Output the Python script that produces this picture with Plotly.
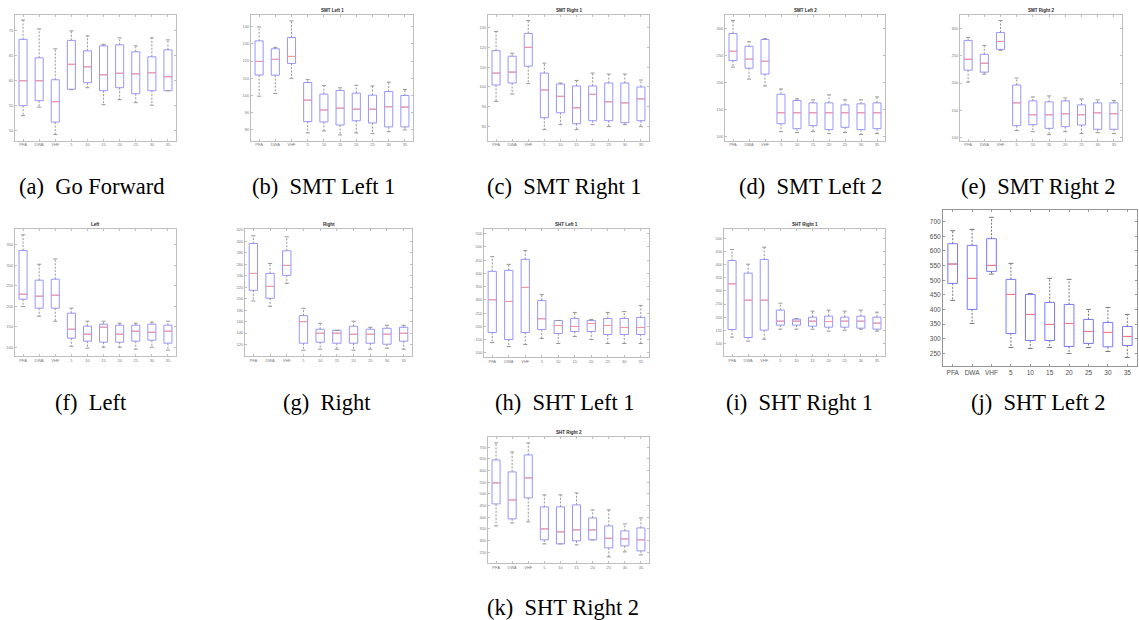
import plotly.graph_objects as go

W, H = 1139, 620

categories = ["PFA", "DWA", "VHF", "5", "10", "15", "20", "25", "30", "35"]

# (a) Go Forward
gf_upper = [72.2, 70.4, 66.4, 70.0, 69.0, 67.3, 68.6, 67.0, 68.6, 68.2]
gf_q3 = [68.3, 64.6, 60.2, 68.1, 66.0, 67.0, 67.2, 65.8, 64.8, 66.2]
gf_med = [60.0, 60.0, 55.8, 63.3, 62.8, 61.2, 61.5, 61.4, 61.6, 60.8]
gf_q1 = [55.0, 56.0, 51.7, 58.3, 59.6, 58.0, 58.6, 57.4, 58.0, 58.0]
gf_lower = [53.0, 54.7, 49.2, 58.2, 58.6, 55.2, 56.2, 55.6, 55.1, 58.0]

# (b) SMT Left 1
sl1_upper = [140.0, 128.0, 143.5, 109.1, 105.6, 104.3, 105.8, 105.4, 107.6, 103.3]
sl1_q3 = [131.8, 127.2, 133.8, 107.4, 100.6, 102.7, 101.2, 100.0, 102.1, 99.8]
sl1_med = [119.8, 121.0, 122.7, 97.1, 91.3, 92.4, 91.8, 91.8, 93.2, 93.0]
sl1_q1 = [111.8, 111.7, 118.6, 84.5, 84.3, 82.5, 85.0, 83.7, 81.4, 81.4]
sl1_lower = [99.4, 101.0, 109.9, 77.9, 79.0, 76.7, 77.9, 77.5, 78.6, 79.6]

# (c) SMT Right 1
sr1_upper = [128.0, 117.0, 133.5, 112.0, 102.0, 103.3, 107.0, 106.5, 106.5, 103.5]
sr1_q3 = [118.3, 115.5, 127.0, 107.0, 101.5, 100.5, 100.5, 102.0, 102.0, 100.0]
sr1_med = [107.0, 107.5, 120.0, 98.5, 95.3, 89.5, 96.3, 92.5, 92.0, 94.0]
sr1_q1 = [101.0, 102.0, 110.5, 84.5, 87.0, 81.5, 83.0, 83.0, 82.0, 83.0]
sr1_lower = [92.7, 96.5, 101.7, 78.5, 81.0, 78.5, 81.0, 80.0, 81.0, 80.0]

# (d) SMT Left 2
sl2_upper = [314.0, 275.0, 280.6, 188.2, 170.0, 168.2, 177.3, 168.2, 168.2, 173.6]
sl2_q3 = [290.3, 266.6, 279.3, 178.5, 167.0, 162.7, 162.7, 159.0, 160.9, 162.7]
sl2_med = [257.5, 243.0, 239.2, 144.5, 144.5, 144.5, 144.5, 144.5, 144.5, 144.5]
sl2_q1 = [240.5, 226.5, 215.6, 124.4, 115.3, 120.8, 113.5, 117.7, 113.5, 115.3]
sl2_lower = [228.3, 206.4, 193.7, 109.8, 108.0, 109.8, 106.2, 108.0, 104.4, 106.2]

# (e) SMT Right 2
sr2_upper = [283.1, 268.7, 313.9, 209.0, 174.7, 176.5, 172.9, 171.1, 169.3, 168.1]
sr2_q3 = [277.7, 252.4, 292.2, 196.4, 167.5, 165.7, 167.5, 160.2, 163.9, 163.9]
sr2_med = [243.4, 236.1, 275.9, 163.9, 142.2, 142.2, 144.0, 142.2, 145.8, 144.0]
sr2_q1 = [223.5, 219.9, 261.4, 122.3, 124.1, 117.5, 120.5, 123.5, 115.7, 115.7]
sr2_lower = [201.8, 216.3, 259.6, 113.3, 111.4, 106.0, 111.4, 107.8, 109.6, 107.8]

# (f) Left
l_upper = [374.4, 302.9, 315.9, 195.8, 164.1, 164.1, 159.3, 159.3, 161.7, 164.1]
l_q3 = [336.2, 264.0, 266.4, 183.6, 152.0, 156.8, 154.4, 154.4, 156.8, 154.4]
l_med = [229.9, 225.0, 227.4, 144.6, 132.5, 149.5, 132.5, 139.8, 137.3, 139.8]
l_q1 = [217.7, 195.8, 195.8, 122.7, 115.4, 113.0, 113.0, 115.4, 117.9, 110.6]
l_lower = [199.8, 176.3, 164.1, 103.2, 98.4, 100.8, 100.8, 96.0, 100.8, 93.5]

# (g) Right
r_upper = [309.6, 261.4, 307.8, 183.2, 157.1, 144.9, 160.6, 150.1, 153.6, 153.6]
r_q3 = [296.2, 244.0, 283.5, 170.4, 146.7, 144.9, 151.9, 146.7, 148.4, 150.1]
r_med = [244.0, 221.4, 258.0, 160.0, 139.7, 139.7, 138.0, 138.0, 138.0, 139.7]
r_q1 = [214.5, 200.6, 240.6, 122.3, 124.0, 122.3, 122.3, 122.3, 120.6, 125.8]
r_lower = [196.0, 186.7, 226.7, 110.1, 111.9, 111.9, 110.1, 111.9, 113.6, 111.9]

# (h) SHT Left 1
hl1_upper = [463.1, 434.1, 485.8, 320.8, 222.5, 252.8, 226.3, 252.8, 256.5, 279.2]
hl1_q3 = [407.7, 411.5, 453.0, 298.1, 222.5, 230.1, 222.5, 230.1, 230.1, 233.9]
hl1_med = [300.6, 294.3, 347.2, 228.9, 203.6, 199.9, 211.2, 203.6, 196.1, 196.1]
hl1_q1 = [177.2, 150.8, 177.2, 188.5, 173.4, 180.9, 180.9, 169.6, 169.6, 169.6]
hl1_lower = [139.4, 124.3, 131.9, 154.5, 135.6, 162.0, 150.8, 135.6, 135.6, 135.6]

# (i) SHT Right 1
hr1_upper = [457.0, 401.3, 465.8, 253.2, 194.9, 222.8, 226.6, 222.8, 226.6, 219.0]
hr1_q3 = [415.2, 367.1, 419.0, 226.6, 192.4, 200.0, 203.8, 200.0, 203.8, 200.0]
hr1_med = [326.6, 264.6, 264.6, 184.8, 184.8, 184.8, 183.5, 184.8, 184.8, 177.2]
hr1_q1 = [153.2, 122.8, 150.6, 169.6, 169.6, 165.8, 162.0, 162.0, 158.2, 154.4]
hr1_lower = [124.1, 108.9, 116.5, 154.4, 154.4, 154.4, 146.8, 150.6, 154.4, 146.8]

# (j) SHT Left 2
hl2_upper = [669.2, 673.8, 714.8, 557.6, 455.1, 506.4, 503.0, 400.5, 407.3, 383.4]
hl2_q3 = [624.8, 619.1, 641.9, 503.0, 451.7, 424.4, 417.5, 366.3, 356.0, 342.4]
hl2_med = [555.4, 506.4, 550.8, 451.7, 383.4, 349.2, 352.6, 325.3, 321.9, 308.2]
hl2_q1 = [489.3, 400.5, 530.3, 318.5, 294.5, 294.5, 274.0, 284.3, 272.9, 277.4]
hl2_lower = [431.2, 352.6, 521.2, 270.6, 267.2, 270.6, 250.1, 270.6, 256.9, 236.4]

# (k) SHT Right 2
hr2_upper = [718.6, 680.0, 718.6, 495.7, 495.7, 504.3, 431.4, 431.4, 371.4, 397.1]
hr2_q3 = [645.7, 594.3, 667.1, 444.3, 444.3, 452.9, 397.1, 362.9, 341.4, 354.3]
hr2_med = [547.1, 474.3, 568.6, 350.0, 337.1, 345.7, 345.7, 310.0, 307.1, 302.9]
hr2_q1 = [457.1, 392.9, 482.9, 302.9, 285.7, 298.6, 302.9, 268.6, 277.1, 255.7]
hr2_lower = [362.9, 375.7, 380.0, 285.7, 285.7, 281.4, 302.9, 230.0, 251.4, 238.6]

# panel: title, tag, caption, stats, frame px (left, right, top, bottom), y range, dtick, caption center px, big
panels = [
    ("", "(a)", "Go Forward", (gf_upper, gf_q3, gf_med, gf_q1, gf_lower), (15, 176, 13, 139), (48.0, 73.2), 5, (92, 185), False),
    ("SMT Left 1", "(b)", "SMT Left 1", (sl1_upper, sl1_q3, sl1_med, sl1_q1, sl1_lower), (251, 413, 13, 139), (73.4, 147.0), 10, (323, 185), False),
    ("SMT Right 1", "(c)", "SMT Right 1", (sr1_upper, sr1_q3, sr1_med, sr1_q1, sr1_lower), (488, 649, 13, 139), (73.0, 136.3), 10, (564, 185), False),
    ("SMT Left 2", "(d)", "SMT Left 2", (sl2_upper, sl2_q3, sl2_med, sl2_q1, sl2_lower), (725, 885, 13, 139), (93.4, 324.3), 50, (810, 185), False),
    ("SMT Right 2", "(e)", "SMT Right 2", (sr2_upper, sr2_q3, sr2_med, sr2_q1, sr2_lower), (960, 1122, 13, 139), (95.2, 324.1), 50, (1038, 185), False),
    ("Left", "(f)", "Left", (l_upper, l_q3, l_med, l_q1, l_lower), (15, 176, 228, 355), (79.7, 388.0), 50, (91, 402), False),
    ("Right", "(g)", "Right", (r_upper, r_q3, r_med, r_q1, r_lower), (245, 412, 228, 355), (100.3, 321.0), 20, (327, 402), False),
    ("SHT Left 1", "(h)", "SHT Left 1", (hl1_upper, hl1_q3, hl1_med, hl1_q1, hl1_lower), (484, 649, 228, 356), (85.3, 566.4), 50, (565, 402), False),
    ("SHT Right 1", "(i)", "SHT Right 1", (hr1_upper, hr1_q3, hr1_med, hr1_q1, hr1_lower), (724, 885, 228, 355), (53.0, 534.0), 50, (799, 402), False),
    ("", "(j)", "SHT Left 2", (hl2_upper, hl2_q3, hl2_med, hl2_q1, hl2_lower), (943, 1137, 209, 365), (208.0, 738.7), 50, (1038, 402), True),
    ("SHT Right 2", "(k)", "SHT Right 2", (hr2_upper, hr2_q3, hr2_med, hr2_q1, hr2_lower), (488, 649, 436, 563), (203.0, 745.7), 50, (563, 607), False),
]

fig = go.Figure()
xs = list(range(len(categories)))
BOX_HALF = 0.25
CAP_HALF = 0.125

annotations = []
for k, (title, tag, cap, stats, frame, yr, dt, cpos, big) in enumerate(panels):
    upper, q3, med, q1, lower = stats
    n = k + 1
    xa = "x" if n == 1 else f"x{n}"
    ya = "y" if n == 1 else f"y{n}"
    box_col = "rgb(120,120,255)" if big else "rgb(150,150,255)"
    med_col = "rgb(255,120,120)" if big else "rgb(255,150,150)"
    wh_col = "rgb(120,120,120)" if big else "rgb(150,150,150)"
    frame_col = "rgb(150,150,150)" if big else "rgb(190,190,190)"
    font_col = "rgb(80,80,80)" if big else "rgb(120,120,120)"
    fsize = 6.5 if big else 4

    # whiskers (dashed)
    wx, wy = [], []
    for i in xs:
        wx += [i, i, None, i, i, None]
        wy += [q3[i], upper[i], None, q1[i], lower[i], None]
    fig.add_trace(go.Scatter(x=wx, y=wy, mode="lines", xaxis=xa, yaxis=ya,
                             line=dict(color=wh_col, width=1, dash="2px,1.5px"),
                             hoverinfo="skip", showlegend=False))
    # caps
    cx, cy = [], []
    for i in xs:
        cx += [i - CAP_HALF, i + CAP_HALF, None, i - CAP_HALF, i + CAP_HALF, None]
        cy += [upper[i], upper[i], None, lower[i], lower[i], None]
    fig.add_trace(go.Scatter(x=cx, y=cy, mode="lines", xaxis=xa, yaxis=ya,
                             line=dict(color=wh_col, width=1),
                             hoverinfo="skip", showlegend=False))
    # boxes
    fig.add_trace(go.Box(x=xs, q1=q1, median=med, q3=q3, lowerfence=q1, upperfence=q3,
                         width=2 * BOX_HALF, whiskerwidth=0, xaxis=xa, yaxis=ya,
                         line=dict(color=box_col, width=1), fillcolor="rgba(0,0,0,0)",
                         hoverinfo="skip", showlegend=False))
    # medians
    mx, my = [], []
    for i in xs:
        mx += [i - BOX_HALF, i + BOX_HALF, None]
        my += [med[i], med[i], None]
    fig.add_trace(go.Scatter(x=mx, y=my, mode="lines", xaxis=xa, yaxis=ya,
                             line=dict(color=med_col, width=1),
                             hoverinfo="skip", showlegend=False))

    l, r, t, b = frame
    axis_common = dict(showline=True, mirror="ticks", linecolor=frame_col, linewidth=1,
                       ticks="inside", ticklen=2, tickcolor=frame_col, showgrid=False,
                       zeroline=False, tickfont=dict(size=fsize, color=font_col,
                                                     family="Liberation Sans, Arial"))
    xkey = "xaxis" if n == 1 else f"xaxis{n}"
    ykey = "yaxis" if n == 1 else f"yaxis{n}"
    fig.update_layout({
        xkey: dict(domain=[l / W, r / W], anchor=ya, range=[-0.5, len(xs) - 0.5],
                   tickmode="array", tickvals=xs, ticktext=categories, **axis_common),
        ykey: dict(domain=[1 - b / H, 1 - t / H], anchor=xa, range=list(yr),
                   tick0=0, dtick=dt, **axis_common),
    })
    if title:
        annotations.append(dict(text=f"<b>{title}</b>", x=0.5, y=1, xref=f"{xa} domain",
                                yref=f"{ya} domain", yanchor="bottom", showarrow=False,
                                font=dict(size=4.5, color="rgb(40,40,40)",
                                          family="Liberation Sans, Arial")))
    annotations.append(dict(text=f"{tag}&nbsp;&nbsp;{cap}", x=cpos[0] / W, y=1 - cpos[1] / H,
                            xref="paper", yref="paper", xanchor="center", yanchor="middle",
                            showarrow=False,
                            font=dict(size=22.5, color="black", family="Liberation Serif, Times New Roman")))

fig.update_layout(width=W, height=H, margin=dict(l=0, r=0, t=0, b=0),
                  paper_bgcolor="white", plot_bgcolor="white", annotations=annotations)

fig.write_html("out.html")
